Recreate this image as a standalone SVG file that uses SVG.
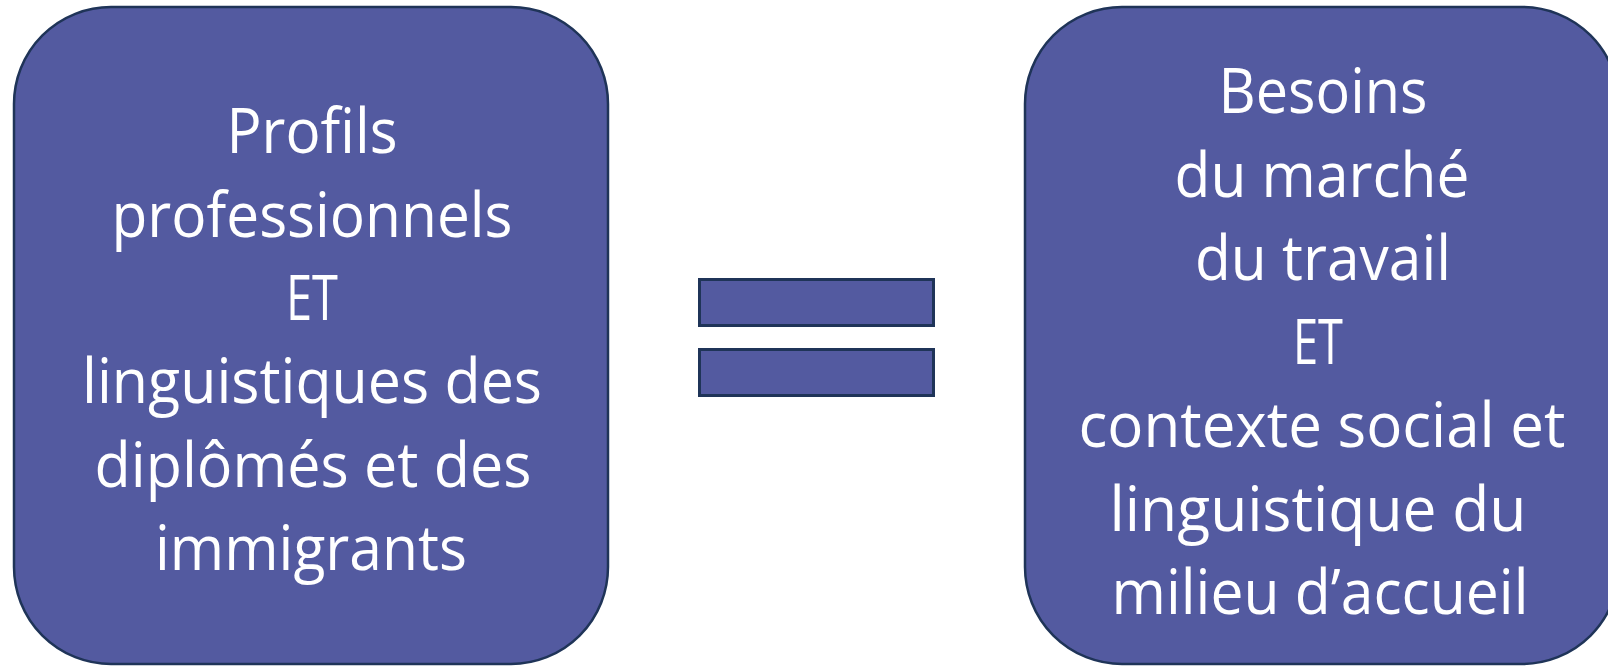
<svg xmlns="http://www.w3.org/2000/svg" width="1608" height="666" viewBox="0 0 1608 666">
<style>
.box{fill:#535AA0;stroke:#1F3458;stroke-width:2.5}
.bar{fill:#535AA0;stroke:#1F3458;stroke-width:3}
.t{font-family:"Open Sans","Noto Sans","Liberation Sans",sans-serif;font-size:62px;fill:#FFFFFF;text-anchor:middle}
</style>
<rect width="1608" height="666" fill="#FFFFFF"/>
<g id="node-left">
<rect class="box" x="14" y="7" width="594" height="657" rx="97" ry="97"/>
<text class="t" x="312" y="153" textLength="171" lengthAdjust="spacingAndGlyphs">Profils</text>
<text class="t" x="312" y="237" textLength="401" lengthAdjust="spacingAndGlyphs">professionnels</text>
<text class="t" x="312" y="320" textLength="52" lengthAdjust="spacingAndGlyphs">ET</text>
<text class="t" x="312" y="403" textLength="460" lengthAdjust="spacingAndGlyphs">linguistiques des</text>
<text class="t" x="313" y="487" textLength="437" lengthAdjust="spacingAndGlyphs">diplômés et des</text>
<text class="t" x="311" y="570" textLength="312" lengthAdjust="spacingAndGlyphs">immigrants</text>
</g>
<g id="node-equals">
<rect class="bar" x="699.5" y="279.5" width="234" height="46"/>
<rect class="bar" x="699.5" y="349.5" width="234" height="46"/>
</g>
<g id="node-right">
<rect class="box" x="1025" y="7" width="594" height="657" rx="97" ry="97"/>
<text class="t" x="1323" y="113" textLength="209" lengthAdjust="spacingAndGlyphs">Besoins</text>
<text class="t" x="1322" y="196.5" textLength="295" lengthAdjust="spacingAndGlyphs">du marché</text>
<text class="t" x="1323" y="280" textLength="256" lengthAdjust="spacingAndGlyphs">du travail</text>
<text class="t" x="1318" y="363.5" textLength="50" lengthAdjust="spacingAndGlyphs">ET</text>
<text class="t" x="1322" y="447" textLength="487" lengthAdjust="spacingAndGlyphs">contexte social et</text>
<text class="t" x="1318" y="530.5" textLength="417" lengthAdjust="spacingAndGlyphs">linguistique du</text>
<text class="t" x="1320" y="614" textLength="417" lengthAdjust="spacingAndGlyphs">milieu d’accueil</text>
</g>
<g id="connectors"></g>
</svg>
